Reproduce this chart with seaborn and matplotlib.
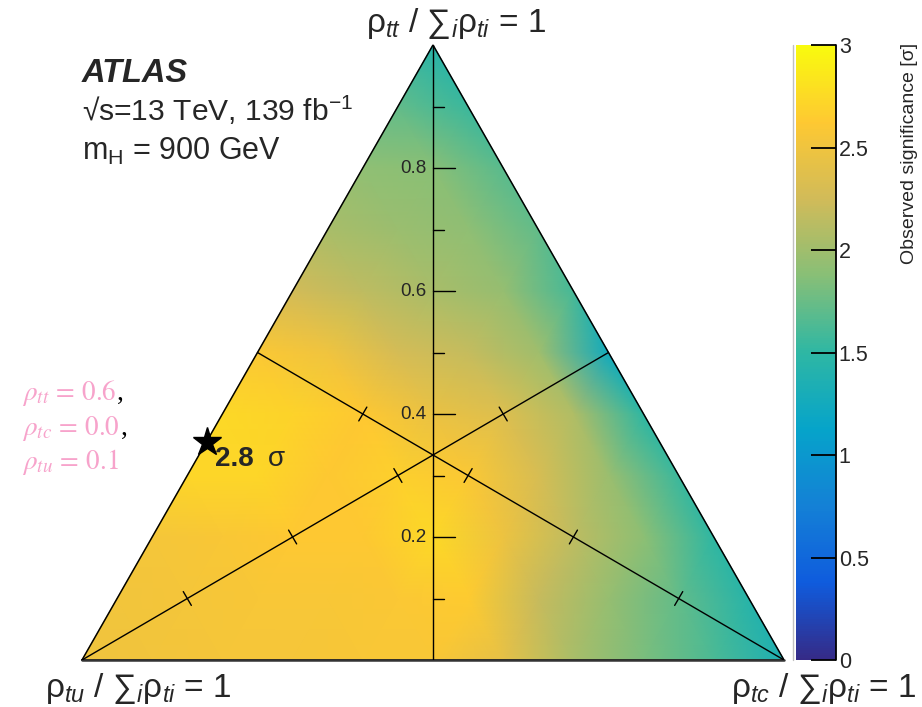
import numpy as np
import matplotlib
matplotlib.use("Agg")
import matplotlib.pyplot as plt
import matplotlib.tri as mtri
from matplotlib.lines import Line2D
import seaborn as sns

# ---------------------------------------------------------------
# Observed significance on a ternary grid (step 0.1).
# Each row is a fixed rho_tt fraction; entries run over the rho_tc
# fraction 0.0, 0.1, ... (rho_tu fraction = 1 - tt - tc).
# ---------------------------------------------------------------
tt_levels = [0.0, 0.1, 0.2, 0.3, 0.4, 0.5, 0.6, 0.7, 0.8, 0.9, 1.0]
sig_tt00 = [2.50, 2.53, 2.55, 2.55, 2.57, 2.58, 2.42, 2.05, 1.82, 1.62, 1.35]
sig_tt01 = [2.52, 2.55, 2.57, 2.57, 2.60, 2.64, 2.20, 1.95, 1.72, 1.45]
sig_tt02 = [2.55, 2.58, 2.62, 2.62, 2.74, 2.48, 2.15, 1.90, 1.50]
sig_tt03 = [2.72, 2.72, 2.62, 2.68, 2.60, 2.30, 1.98, 1.55]
sig_tt04 = [2.74, 2.70, 2.62, 2.45, 2.35, 2.08, 1.50]
sig_tt05 = [2.60, 2.50, 2.28, 2.18, 2.00, 1.25]
sig_tt06 = [2.25, 2.15, 2.05, 1.95, 1.60]
sig_tt07 = [2.05, 1.98, 1.92, 1.72]
sig_tt08 = [1.92, 1.88, 1.68]
sig_tt09 = [1.72, 1.55]
sig_tt10 = [1.45]
sig_rows = [sig_tt00, sig_tt01, sig_tt02, sig_tt03, sig_tt04, sig_tt05,
            sig_tt06, sig_tt07, sig_tt08, sig_tt09, sig_tt10]

# best-fit point (fractions) and its significance
best_tt, best_tc, best_sig = 0.355, 0.0, 2.8
axis_ticks = [0.2, 0.4, 0.6, 0.8]
cbar_ticks = [0, 0.5, 1, 1.5, 2, 2.5, 3]

# ROOT "bird" palette
bird = [(0.2082, 0.1664, 0.5293), (0.0592, 0.3599, 0.8684),
        (0.0780, 0.5041, 0.8385), (0.0232, 0.6419, 0.7914),
        (0.1802, 0.7178, 0.6425), (0.5301, 0.7492, 0.4662),
        (0.8186, 0.7328, 0.3499), (0.9956, 0.7862, 0.1968),
        (0.9764, 0.9832, 0.0539)]
cmap = sns.blend_palette(bird, n_colors=256, as_cmap=True)

sns.set_theme(style="white")
plt.rcParams["font.family"] = ["Liberation Sans", "DejaVu Sans"]
plt.rcParams["mathtext.fontset"] = "custom"
plt.rcParams["mathtext.rm"] = "Liberation Sans"
plt.rcParams["mathtext.it"] = "Liberation Sans:italic"
plt.rcParams["mathtext.bf"] = "Liberation Sans:bold"

W, H = 922, 707
fig = plt.figure(figsize=(W / 100, H / 100), dpi=100)


def fx(px):
    return px / W


def fy(py):
    return 1 - py / H


L, R, T, B = 82, 784, 45, 660
ax = fig.add_axes([fx(L), fy(B), (R - L) / W, (B - T) / H])
ax.set_xlim(0, 1)
ax.set_ylim(0, 1)
ax.axis("off")
sx, sy = (R - L), (B - T)   # pixels per data unit


def tern(tt, tc):
    return tc + tt / 2.0, tt


# heat map over the triangle
xs, ys, zs = [], [], []
for tt, row in zip(tt_levels, sig_rows):
    for j, v in enumerate(row):
        x, y = tern(tt, j * 0.1)
        xs.append(x)
        ys.append(y)
        zs.append(v)
tri = mtri.Triangulation(np.array(xs), np.array(ys))
mesh = ax.tripcolor(tri, np.array(zs), shading="gouraud", cmap=cmap,
                    vmin=0, vmax=3)

# triangle outline
ax.plot([0, 1, 0.5, 0], [0, 0, 1, 0], color="black", lw=1.1,
        clip_on=False, solid_joinstyle="miter")
ax.plot([0, 1], [0, 0], color="#333333", lw=1.8, clip_on=False)

# the three medians
ax.plot([0.5, 0.5], [0, 1], color="black", lw=1.0)
ax.plot([0, 0.75], [0, 0.5], color="black", lw=1.0)
ax.plot([1, 0.25], [0, 0.5], color="black", lw=1.0)

# ticks on the vertical median
for k in range(1, 10):
    v = k / 10
    ln = 22 if k % 2 == 0 else 11
    ax.plot([0.5, 0.5 + ln / sx], [v, v], color="black", lw=1.0)
for v in axis_ticks:
    ax.text(0.5 - 7 / sx, v, f"{v:.1f}", ha="right", va="center",
            fontsize=13.5)


# crossing ticks on the two diagonal medians
def median_ticks(p0, p1):
    dxp = (p1[0] - p0[0]) * sx
    dyp = (p1[1] - p0[1]) * sy
    n = np.hypot(dxp, dyp)
    nx, ny = -dyp / n, dxp / n
    half = 8
    for f in axis_ticks:
        cx = p0[0] + f * (p1[0] - p0[0])
        cy = p0[1] + f * (p1[1] - p0[1])
        ax.plot([cx - half * nx / sx, cx + half * nx / sx],
                [cy - half * ny / sy, cy + half * ny / sy],
                color="black", lw=1.0)


median_ticks((0, 0), (0.75, 0.5))
median_ticks((1, 0), (0.25, 0.5))

# best-fit marker
bx, by = tern(best_tt, best_tc)
ax.plot(bx, by, marker="*", ms=21, color="black", clip_on=False, zorder=5)
ax.annotate(f"{best_sig:.1f}", xy=(bx, by), xytext=(8, -24),
            textcoords="offset pixels", fontsize=20, fontweight="bold",
            ha="left", va="baseline")
ax.annotate("σ", xy=(bx, by), xytext=(61, -24),
            textcoords="offset pixels", fontsize=20,
            ha="left", va="baseline")

# vertex labels
vfs = 24
fig.text(fx(456), fy(32), r"ρ$_{tt}$ / ∑$_{i}$ρ$_{ti}$ = 1", fontsize=vfs,
         ha="center", va="baseline")
fig.text(fx(45), fy(697), r"ρ$_{tu}$ / ∑$_{i}$ρ$_{ti}$ = 1", fontsize=vfs,
         ha="left", va="baseline")
fig.text(fx(916), fy(697), r"ρ$_{tc}$ / ∑$_{i}$ρ$_{ti}$ = 1", fontsize=vfs,
         ha="right", va="baseline")

# experiment labels
fig.text(fx(82), fy(82), "ATLAS", fontsize=23.5, fontweight="bold",
         fontstyle="italic", ha="left", va="baseline")
fig.text(fx(82), fy(121), r"√s=13 TeV, 139 fb$^{-1}$", fontsize=21.6,
         ha="left", va="baseline")
fig.text(fx(82), fy(160), r"m$_{\mathregular{H}}$ = 900 GeV", fontsize=22,
         ha="left", va="baseline")

# coupling values of the best-fit point
pink = "#f7a3cb"
pink_lines = [(r"$\rho_{tt}\,=\,0.6$", True, 400),
              (r"$\rho_{tc}\,=\,0.0$", True, 435),
              (r"$\rho_{tu}\,=\,0.1$", False, 469)]
pink_texts = []
for s, comma, base in pink_lines:
    t = fig.text(fx(22), fy(base), s, fontsize=19.5, color=pink,
                 math_fontfamily="stix", ha="left", va="baseline")
    pink_texts.append((t, comma, base))
fig.canvas.draw()
renderer = fig.canvas.get_renderer()
for t, comma, base in pink_texts:
    if comma:
        bb = t.get_window_extent(renderer)
        fig.text(bb.x1 / W + 1 / W, fy(base), ",", fontsize=19.5,
                 color="black", family="Liberation Serif",
                 ha="left", va="baseline")

# colour bar
cax = fig.add_axes([fx(796), fy(B), 40 / W, (B - T) / H])
cb = fig.colorbar(mesh, cax=cax)
cb.set_ticks(cbar_ticks)
cb.set_ticklabels(["0", "0.5", "1", "1.5", "2", "2.5", "3"])
cb.outline.set_visible(False)
cb.ax.minorticks_off()
cax.set_axisbelow(False)
cax.tick_params(axis="y", which="major", direction="in", length=18,
                width=1.3, labelsize=15.5, right=True, left=False, pad=2,
                color="black")
cax.axvline(1, color="black", lw=1.3, clip_on=False, zorder=5)
fig.add_artist(Line2D([fx(793), fx(793)], [fy(B), fy(T)], color="#c0c0c0",
                      lw=1.0))
fig.text(fx(909), fy(T - 2), "Observed significance [σ]", fontsize=14,
         rotation=90, ha="center", va="top")

fig.savefig("out.png", dpi=100)
